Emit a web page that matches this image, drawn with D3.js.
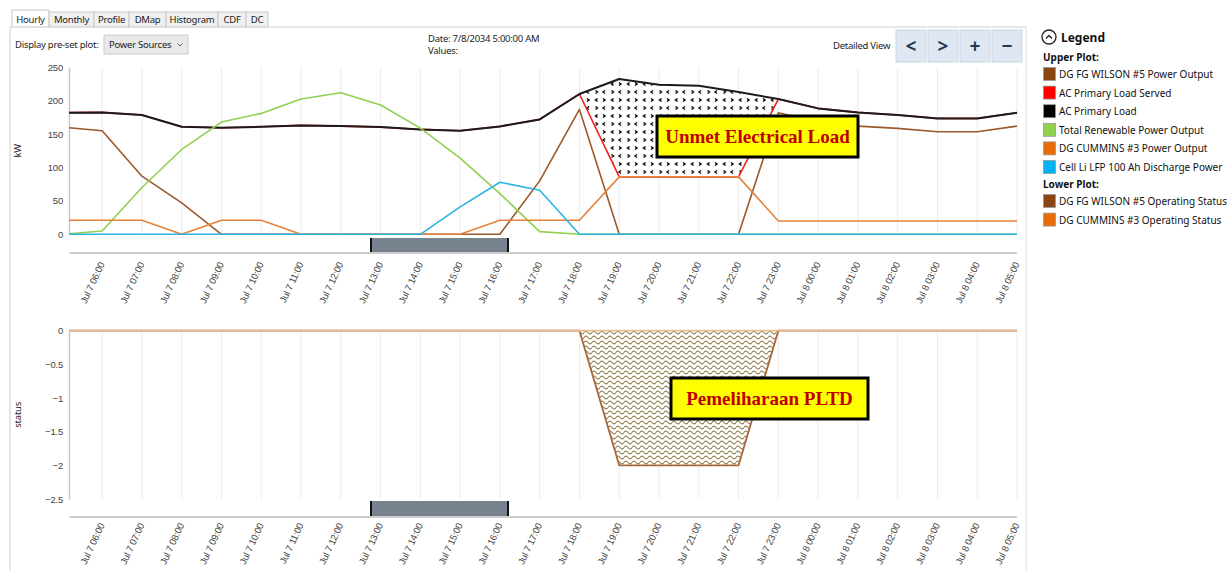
<!DOCTYPE html>
<html>
<head>
<meta charset="utf-8">
<script src="https://cdn.jsdelivr.net/npm/d3@7"></script>
<style>
  body { margin: 0; background: #fff; }
  svg { display: block; font-family: "Noto Sans", "Open Sans", sans-serif; }
  .ui { font-size: 9.5px; fill: #222; letter-spacing: -0.25px; }
  .tick text { font-size: 9.5px; fill: #444; letter-spacing: -0.2px; }
  .legend-text { font-size: 10px; fill: #111; }
  .note { font-family: "Liberation Serif", "DejaVu Serif", serif; font-weight: bold; font-size: 19px; fill: #c00000; }
</style>
</head>
<body>
<div id="chart"></div>
<script>
// Hourly timestamps (first one sits just left of the visible window)
const hours = [
  "2034-07-07T05:00", "2034-07-07T06:00", "2034-07-07T07:00", "2034-07-07T08:00",
  "2034-07-07T09:00", "2034-07-07T10:00", "2034-07-07T11:00", "2034-07-07T12:00",
  "2034-07-07T13:00", "2034-07-07T14:00", "2034-07-07T15:00", "2034-07-07T16:00",
  "2034-07-07T17:00", "2034-07-07T18:00", "2034-07-07T19:00", "2034-07-07T20:00",
  "2034-07-07T21:00", "2034-07-07T22:00", "2034-07-07T23:00", "2034-07-08T00:00",
  "2034-07-08T01:00", "2034-07-08T02:00", "2034-07-08T03:00", "2034-07-08T04:00",
  "2034-07-08T05:00",
];
const viewStart = "2034-07-07T05:10";

// Upper plot series (kW)
const wilsonPower = [160.5, 155, 87, 47, 0, 0, 0, 0, 0, 0, 0, 0, 80, 187, 0, 0, 0, 0, 182, 168, 162, 158.5, 153.5, 153.5, 162];
const loadServed = [182, 182.5, 178.5, 161, 159.5, 161, 163, 162, 160.5, 157, 155, 161.5, 172, 210, 86, 86, 86, 86, 202.5, 188.5, 182.5, 178.5, 173.5, 173.5, 182];
const primaryLoad = [182, 182.5, 178.5, 161, 159.5, 161, 163, 162, 160.5, 157, 155, 161.5, 172, 210, 232.5, 224, 222.5, 213, 202.5, 188.5, 182.5, 178.5, 173.5, 173.5, 182];
const renewable = [0, 5, 70, 127, 168, 181, 202.5, 212, 193.5, 159, 114, 61, 4, 0, 0, 0, 0, 0, 0, 0, 0, 0, 0, 0, 0];
const cumminsPower = [21, 21, 21, 0, 21, 21, 0, 0, 0, 0, 0, 21, 21, 21, 86, 86, 86, 86, 20, 20, 20, 20, 20, 20, 20];
const battery = [0, 0, 0, 0, 0, 0, 0, 0, 0, 0, 41, 78, 66, 0, 0, 0, 0, 0, 0, 0, 0, 0, 0, 0, 0];

// Lower plot series (status)
const wilsonStatus = [0, 0, 0, 0, 0, 0, 0, 0, 0, 0, 0, 0, 0, 0, -2, -2, -2, -2, 0, 0, 0, 0, 0, 0, 0];
const cumminsStatus = [0, 0, 0, 0, 0, 0, 0, 0, 0, 0, 0, 0, 0, 0, 0, 0, 0, 0, 0, 0, 0, 0, 0, 0, 0];

const upperTicks = [0, 50, 100, 150, 200, 250];
const lowerTicks = [0, -0.5, -1, -1.5, -2, -2.5];

const upperSeries = [
  { name: "DG FG WILSON #5 Power Output", values: wilsonPower, line: "#9a5a2c", swatch: "#8b4513" },
  { name: "AC Primary Load Served", values: loadServed, line: "#f02020", swatch: "#ff0000" },
  { name: "AC Primary Load", values: primaryLoad, line: "#1c1c1c", swatch: "#000000" },
  { name: "Total Renewable Power Output", values: renewable, line: "#92d050", swatch: "#92d050" },
  { name: "DG CUMMINS #3 Power Output", values: cumminsPower, line: "#e8823a", swatch: "#e46c0a" },
  { name: "Cell Li LFP 100 Ah Discharge Power", values: battery, line: "#2ab4e4", swatch: "#00b0f0" },
];
const lowerSeries = [
  { name: "DG FG WILSON #5 Operating Status", values: wilsonStatus, line: "#a8683a", swatch: "#8b4513" },
  { name: "DG CUMMINS #3 Operating Status", values: cumminsStatus, line: "#e6bf98", swatch: "#e46c0a" },
];

const parse = d3.timeParse("%Y-%m-%dT%H:%M");
const times = hours.map(parse);

const dims = { width: 1228, height: 571, left: 69, right: 1017 };
const upper = { top: 67.3, bottom: 234.3 };
const lower = { top: 330.7, bottom: 499 };

const svg = d3.select("#chart").append("svg")
  .attr("width", dims.width).attr("height", dims.height);

const defs = svg.append("defs");
defs.append("clipPath").attr("id", "clip")
  .append("rect").attr("x", dims.left).attr("y", 0)
  .attr("width", dims.right - dims.left + 2).attr("height", dims.height);

// chevron pattern for unmet load
const chev = defs.append("pattern").attr("id", "chev")
  .attr("patternUnits", "userSpaceOnUse").attr("width", 16).attr("height", 16);
chev.append("rect").attr("width", 16).attr("height", 16).attr("fill", "#fff");
chev.append("path")
  .attr("d", "M5.5,2.5L3.5,4L5.5,5.5 M11,2.5L13,4L11,5.5 M3.5,10.5L5.5,12L3.5,13.5 M13,10.5L11,12L13,13.5")
  .attr("fill", "none").attr("stroke", "#000").attr("stroke-width", 1.4);

// wavy pattern for maintenance
const wave = defs.append("pattern").attr("id", "wave")
  .attr("patternUnits", "userSpaceOnUse").attr("width", 8).attr("height", 5);
wave.append("rect").attr("width", 8).attr("height", 5).attr("fill", "#fff");
wave.append("path")
  .attr("d", "M0,2.5 C1.3,0.8 2.7,0.8 4,2.5 S6.7,4.2 8,2.5")
  .attr("fill", "none").attr("stroke", "#948456").attr("stroke-width", 1.2);

// ---------- UI chrome ----------
const tabs = ["Hourly", "Monthly", "Profile", "DMap", "Histogram", "CDF", "DC"];
const tabEdges = [12, 49, 94, 129, 166, 218, 246, 268];
tabs.forEach((t, i) => {
  svg.append("rect").attr("x", tabEdges[i]).attr("y", i === 0 ? 10 : 12)
    .attr("width", tabEdges[i + 1] - tabEdges[i]).attr("height", i === 0 ? 17 : 15)
    .attr("fill", i === 0 ? "#fff" : "#f0f0f0").attr("stroke", "#c8c8c8");
  svg.append("text").attr("class", "ui")
    .attr("x", (tabEdges[i] + tabEdges[i + 1]) / 2).attr("y", 23)
    .attr("text-anchor", "middle").text(t);
});
svg.append("line").attr("x1", 268).attr("x2", 1026).attr("y1", 27).attr("y2", 27).attr("stroke", "#cfcfcf");
svg.append("line").attr("x1", 10).attr("x2", 10).attr("y1", 27).attr("y2", 571).attr("stroke", "#cfcfcf");
svg.append("line").attr("x1", 1026).attr("x2", 1026).attr("y1", 27).attr("y2", 571).attr("stroke", "#dedede");
svg.append("line").attr("x1", 10).attr("x2", 12).attr("y1", 27).attr("y2", 27).attr("stroke", "#cfcfcf");

svg.append("text").attr("class", "ui").attr("x", 15).attr("y", 48).text("Display pre-set plot:");
svg.append("rect").attr("x", 104).attr("y", 35).attr("width", 84).attr("height", 19)
  .attr("fill", "#e9e9e9").attr("stroke", "#cccccc");
svg.append("text").attr("class", "ui").attr("x", 109).attr("y", 48).text("Power Sources");
svg.append("path").attr("d", "M177.5,43.5 L180,46 L182.5,43.5").attr("fill", "none").attr("stroke", "#666");

svg.append("text").attr("class", "ui").attr("x", 428).attr("y", 42).text("Date:  7/8/2034 5:00:00 AM");
svg.append("text").attr("class", "ui").attr("x", 428).attr("y", 54).text("Values:");
svg.append("text").attr("class", "ui").attr("x", 833).attr("y", 49).text("Detailed View");

const buttons = ["<", ">", "+", "\u2212"];
buttons.forEach((b, i) => {
  const bx = 896 + i * 32;
  svg.append("rect").attr("x", bx).attr("y", 30).attr("width", 30).attr("height", 32)
    .attr("fill", "#dfe8f2").attr("stroke", "#cad6e3");
  svg.append("text").attr("x", bx + 15).attr("y", 53).attr("text-anchor", "middle")
    .attr("font-size", 19).attr("font-weight", "bold").attr("fill", "#1f3a5c").text(b);
});

// ---------- Scales ----------
const xScale = d3.scaleTime()
  .domain([parse(viewStart), times[times.length - 1]])
  .range([dims.left, dims.right]);
const yUpper = d3.scaleLinear().domain([0, 250]).range([upper.bottom, upper.top]);
const yLower = d3.scaleLinear().domain([-2.5, 0]).range([lower.bottom, lower.top]);

const tickTimes = times.slice(1);
const fmt = d3.timeFormat("%b %-d %H:%M");

function drawPanel(yScale, box, ticks, label, axisY, barY, labelY) {
  // vertical gridlines
  svg.append("g").selectAll("line").data(tickTimes).join("line")
    .attr("x1", (d) => xScale(d)).attr("x2", (d) => xScale(d))
    .attr("y1", box.top).attr("y2", box.bottom)
    .attr("stroke", "#ececec");

  const yAxisG = svg.append("g").attr("transform", `translate(${dims.left},0)`)
    .call(d3.axisLeft(yScale).tickValues(ticks).tickSize(0).tickPadding(6).tickFormat(d3.format("")));
  yAxisG.select(".domain").attr("stroke", "#c8c8c8").attr("stroke-width", 1.5);

  svg.append("text").attr("class", "ui")
    .attr("transform", `translate(21,${(box.top + box.bottom) / 2}) rotate(-90)`)
    .attr("text-anchor", "middle").attr("fill", "#444").text(label);

  // scroll bar track + thumb
  svg.append("line").attr("x1", dims.left).attr("x2", dims.right)
    .attr("y1", axisY).attr("y2", axisY).attr("stroke", "#cfcfcf").attr("stroke-width", 2);
  svg.append("rect").attr("x", 370).attr("y", barY).attr("width", 138).attr("height", axisY - barY - 1)
    .attr("fill", "#76838f");
  [370, 507].forEach((bx) => svg.append("rect").attr("x", bx).attr("y", barY)
    .attr("width", 2).attr("height", axisY - barY - 1).attr("fill", "#111"));

  const xAxisG = svg.append("g").attr("transform", `translate(0,${labelY})`)
    .call(d3.axisBottom(xScale).tickValues(tickTimes).tickFormat(fmt).tickSize(0));
  xAxisG.select(".domain").remove();
  xAxisG.selectAll(".tick text")
    .attr("y", 0).attr("x", 0).attr("dy", "0.35em").attr("dx", "-0.2em")
    .attr("text-anchor", "end")
    .attr("transform", "rotate(-65)");
}

drawPanel(yUpper, upper, upperTicks, "kW", 253, 238, 261);
drawPanel(yLower, lower, lowerTicks, "status", 517, 501, 522);

// ---------- Upper plot ----------
const plot = svg.append("g").attr("clip-path", "url(#clip)");

const unmetArea = d3.area()
  .x((d, i) => xScale(times[i]))
  .y0((d, i) => yUpper(loadServed[i]))
  .y1((d) => yUpper(d));
plot.append("path").datum(primaryLoad).attr("d", unmetArea).attr("fill", "url(#chev)");

const upperLine = d3.line().x((d, i) => xScale(times[i])).y((d) => yUpper(d));
plot.selectAll(".upper-line").data(upperSeries).join("path")
  .attr("class", "upper-line")
  .attr("d", (s) => upperLine(s.values))
  .attr("fill", "none")
  .attr("stroke", (s) => s.line)
  .attr("stroke-width", (s) => (s.name === "AC Primary Load" ? 2 : 1.6))
  .attr("stroke-linejoin", "round");

// ---------- Lower plot ----------
const lowerPlot = svg.append("g").attr("clip-path", "url(#clip)");
const outageArea = d3.area()
  .x((d, i) => xScale(times[i]))
  .y0(yLower(0))
  .y1((d) => yLower(d));
lowerPlot.append("path").datum(wilsonStatus).attr("d", outageArea).attr("fill", "url(#wave)");

const lowerLine = d3.line().x((d, i) => xScale(times[i])).y((d) => yLower(d));
lowerPlot.selectAll(".lower-line").data(lowerSeries).join("path")
  .attr("class", "lower-line")
  .attr("d", (s) => lowerLine(s.values))
  .attr("fill", "none")
  .attr("stroke", (s) => s.line)
  .attr("stroke-width", 1.8);

// ---------- Annotations ----------
function note(x, y, w, h, text) {
  svg.append("rect").attr("x", x).attr("y", y).attr("width", w).attr("height", h)
    .attr("fill", "#ffff00").attr("stroke", "#000").attr("stroke-width", 3);
  svg.append("text").attr("class", "note").attr("x", x + w / 2).attr("y", y + h / 2 + 6)
    .attr("text-anchor", "middle").text(text);
}
note(657, 116, 201, 41, "Unmet Electrical Load");
note(671, 378, 197, 41, "Pemeliharaan PLTD");

// ---------- Legend ----------
const legend = svg.append("g");
legend.append("circle").attr("cx", 1049).attr("cy", 37).attr("r", 7)
  .attr("fill", "#fff").attr("stroke", "#222").attr("stroke-width", 1.3);
legend.append("path").attr("d", "M1046,38.5 L1049,35.5 L1052,38.5")
  .attr("fill", "none").attr("stroke", "#222").attr("stroke-width", 1.4);
legend.append("text").attr("x", 1061).attr("y", 41.5).attr("font-size", 12)
  .attr("font-weight", "bold").attr("fill", "#111").text("Legend");

function legendGroup(title, items, y0) {
  legend.append("text").attr("x", 1043).attr("y", y0).attr("font-size", 10)
    .attr("font-weight", "bold").attr("fill", "#111").text(title);
  items.forEach((s, i) => {
    const y = y0 + 11 + i * 18.6;
    legend.append("rect").attr("x", 1043.5).attr("y", y - 4.5).attr("width", 12).attr("height", 13)
      .attr("fill", s.swatch).attr("stroke", "#999").attr("stroke-width", 0.8);
    legend.append("text").attr("class", "legend-text").attr("x", 1059).attr("y", y + 6).text(s.name);
  });
}
legendGroup("Upper Plot:", upperSeries, 61);
legendGroup("Lower Plot:", lowerSeries, 188);
</script>
</body>
</html>
